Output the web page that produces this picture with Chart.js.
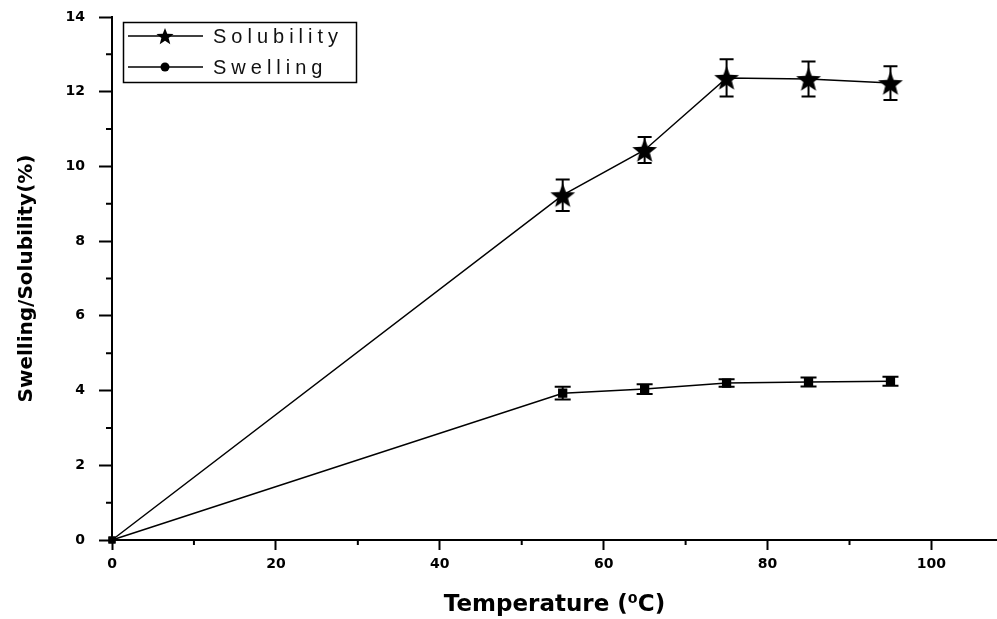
<!DOCTYPE html>
<html>
<head>
<meta charset="utf-8">
<script src="https://cdn.jsdelivr.net/npm/chart.js@4/dist/chart.umd.min.js"></script>
<style>
  body { margin: 0; background: #fff; }
  #wrap { width: 997px; height: 619px; position: relative; }
</style>
</head>
<body>
<div id="wrap"><canvas id="chart"></canvas></div>
<script>
// data
const temps = [0, 55, 65, 75, 85, 95];
const solubility = [0, 9.23, 10.44, 12.37, 12.34, 12.23];
const solubilityErr = [0, 0.42, 0.35, 0.5, 0.47, 0.45];
const swelling = [0, 3.93, 4.04, 4.2, 4.23, 4.25];
const swellingErr = [0, 0.17, 0.13, 0.1, 0.12, 0.12];

const xTicks = [0, 20, 40, 60, 80, 100];
const xMinor = [10, 30, 50, 70, 90];
const yTicks = [0, 2, 4, 6, 8, 10, 12, 14];
const yMinor = [1, 3, 5, 7, 9, 11, 13];

function makeStar(outer, inner) {
    const size = Math.ceil(outer * 2 + 2);
    const c = document.createElement('canvas');
    c.width = size; c.height = size;
    const g = c.getContext('2d');
    g.translate(size / 2, size / 2 + outer * 0.1);
    g.beginPath();
    for (let i = 0; i < 10; i++) {
        const r = i % 2 === 0 ? outer : inner;
        const a = -Math.PI / 2 + i * Math.PI / 5;
        g.lineTo(r * Math.cos(a), r * Math.sin(a));
    }
    g.closePath();
    g.fillStyle = '#000';
    g.fill();
    return c;
}
const bigStar = makeStar(13, 5.5);
const smallStar = makeStar(9, 3.8);

const toPoints = (vals) => vals.map((v, i) => ({ x: temps[i], y: v }));

const errorBars = {
    id: 'errorBars',
    afterDatasetsDraw(chart) {
        const { ctx, scales: { x, y } } = chart;
        ctx.save();
        ctx.strokeStyle = '#000';
        ctx.lineWidth = 2;
        chart.data.datasets.forEach(ds => {
            ds.errors.forEach((e, i) => {
                if (!e) return;
                const px = x.getPixelForValue(temps[i]);
                const top = y.getPixelForValue(ds.data[i].y + e);
                const bot = y.getPixelForValue(ds.data[i].y - e);
                const half = ds.capHalf;
                ctx.beginPath();
                ctx.moveTo(px, top); ctx.lineTo(px, bot);
                ctx.moveTo(px - half, top); ctx.lineTo(px + half, top);
                ctx.moveTo(px - half, bot); ctx.lineTo(px + half, bot);
                ctx.stroke();
            });
        });
        ctx.restore();
    }
};

const minorTicks = {
    id: 'minorTicks',
    afterDraw(chart) {
        const { ctx, scales: { x, y } } = chart;
        ctx.save();
        ctx.strokeStyle = '#000';
        ctx.lineWidth = 2;
        ctx.beginPath();
        xMinor.forEach(v => {
            const px = x.getPixelForValue(v);
            ctx.moveTo(px, x.top); ctx.lineTo(px, x.top + 5);
        });
        yMinor.forEach(v => {
            const py = y.getPixelForValue(v);
            ctx.moveTo(y.right, py); ctx.lineTo(y.right - 6, py);
        });
        ctx.stroke();
        ctx.restore();
    }
};

const boxLegend = {
    id: 'boxLegend',
    afterDraw(chart) {
        const ctx = chart.ctx;
        ctx.save();
        ctx.strokeStyle = '#000';
        ctx.lineWidth = 1.5;
        ctx.strokeRect(123.5, 22.5, 233, 60);
        const rows = [36, 67];
        chart.data.datasets.forEach((ds, i) => {
            const yy = rows[i];
            ctx.beginPath();
            ctx.moveTo(128, yy); ctx.lineTo(203, yy);
            ctx.stroke();
            if (i === 0) {
                ctx.drawImage(smallStar, 165 - smallStar.width / 2, yy - smallStar.height / 2);
            } else {
                ctx.beginPath();
                ctx.arc(165, yy, 4.5, 0, Math.PI * 2);
                ctx.fillStyle = '#000';
                ctx.fill();
            }
            ctx.fillStyle = '#111';
            ctx.font = '20px "Liberation Sans", Arial, sans-serif';
            ctx.letterSpacing = '5px';
            ctx.textBaseline = 'middle';
            ctx.fillText(ds.label, 213, yy + 1);
            ctx.letterSpacing = '0px';
        });
        ctx.restore();
    }
};

const tickFont = { family: '"DejaVu Sans", sans-serif', size: 14, weight: 'bold' };

new Chart(document.getElementById('chart'), {
    type: 'line',
    data: {
        datasets: [
            {
                label: 'Solubility',
                data: toPoints(solubility),
                errors: solubilityErr,
                capHalf: 7,
                borderColor: '#000',
                backgroundColor: '#000',
                borderWidth: 1.5,
                pointStyle: ctx => ctx.dataIndex === 0 ? 'rect' : bigStar,
                pointRadius: ctx => ctx.dataIndex === 0 ? 4 : 10,
                tension: 0,
                clip: false
            },
            {
                label: 'Swelling',
                data: toPoints(swelling),
                errors: swellingErr,
                capHalf: 8,
                borderColor: '#000',
                backgroundColor: '#000',
                borderWidth: 1.5,
                pointStyle: 'rect',
                pointRadius: ctx => ctx.dataIndex === 0 ? 4 : 5.5,
                tension: 0,
                clip: false
            }
        ]
    },
    options: {
        responsive: true,
        maintainAspectRatio: false,
        animation: false,
        layout: { autoPadding: false, padding: { top: 17, right: 0, left: 0, bottom: 0 } },
        plugins: {
            legend: { display: false },
            tooltip: { enabled: false }
        },
        scales: {
            x: {
                type: 'linear',
                min: 0,
                max: 108,
                afterBuildTicks: scale => { scale.ticks = xTicks.map(v => ({ value: v })); },
                afterFit: scale => { scale.height = 79; scale.paddingLeft = 0; scale.paddingRight = 0; },
                grid: { drawOnChartArea: false, tickLength: 10, tickWidth: 2, tickColor: '#000' },
                border: { color: '#000', width: 2 },
                ticks: { color: '#000', font: tickFont, padding: 6, maxRotation: 0 },
                title: {
                    display: true,
                    text: 'Temperature (\u2070C)',
                    color: '#000',
                    font: { family: '"DejaVu Sans", sans-serif', size: 23, weight: 'bold' },
                    padding: { top: 0, bottom: 0 }
                }
            },
            y: {
                min: 0,
                max: 14,
                afterBuildTicks: scale => { scale.ticks = yTicks.map(v => ({ value: v })); },
                afterFit: scale => { scale.width = 112; scale.paddingTop = 0; scale.paddingBottom = 0; },
                grid: { drawOnChartArea: false, tickLength: 13, tickWidth: 2, tickColor: '#000' },
                border: { color: '#000', width: 2 },
                ticks: { color: '#000', font: tickFont, padding: 14 },
                title: {
                    display: true,
                    text: 'Swelling/Solubility(%)',
                    color: '#000',
                    font: { family: '"DejaVu Sans", sans-serif', size: 20, weight: 'bold' },
                    padding: { top: 15, bottom: 0 }
                }
            }
        }
    },
    plugins: [errorBars, minorTicks, boxLegend]
});
</script>
</body>
</html>
